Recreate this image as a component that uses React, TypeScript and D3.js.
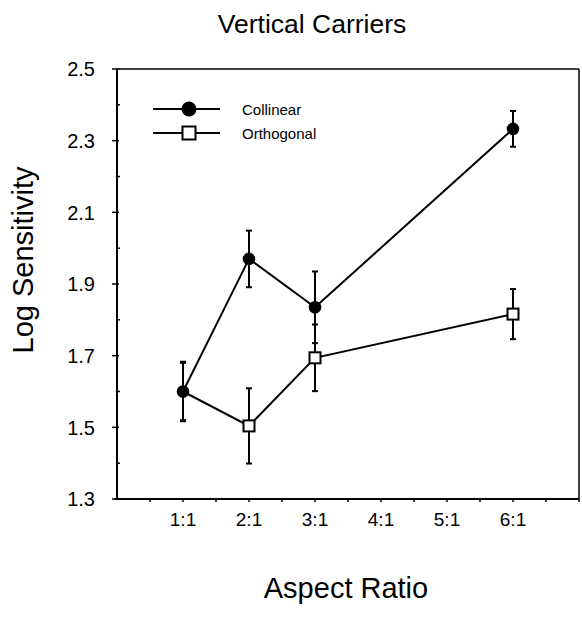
import React from "react";
import * as d3 from "d3";

const categories = ["1:1", "2:1", "3:1", "4:1", "5:1", "6:1"];
const categoryPos = [1, 2, 3, 4, 5, 6];
const yTicks = [1.3, 1.5, 1.7, 1.9, 2.1, 2.3, 2.5];

const collinearX = [1, 2, 3, 6];
const collinearY = [1.60, 1.97, 1.835, 2.333];
const collinearErr = [0.083, 0.079, 0.10, 0.05];

const orthogonalX = [1, 2, 3, 6];
const orthogonalY = [1.60, 1.504, 1.694, 1.816];
const orthogonalErr = [0.08, 0.105, 0.093, 0.07];

const FONT = "'Liberation Sans', Arial, Helvetica, sans-serif";

export default function App() {
  const W = 582, H = 617;
  const left = 117, right = 579, top = 69, bottom = 499;
  const x = d3.scaleLinear().domain([0, 7]).range([left, right]);
  const y = d3.scaleLinear().domain([1.3, 2.5]).range([bottom, top]);
  const line = d3.line<[number, number]>().x(d => x(d[0])).y(d => y(d[1]));

  const xMinor = d3.range(0.5, 7.01, 0.5);
  const yMinor = d3.range(1.4, 2.5, 0.2);

  const colPts: [number, number][] = collinearX.map((v, i) => [v, collinearY[i]]);
  const ortPts: [number, number][] = orthogonalX.map((v, i) => [v, orthogonalY[i]]);

  const errBars = (xs: number[], ys: number[], es: number[], key: string) =>
    xs.map((v, i) => {
      const cx = x(v);
      const y1 = y(ys[i] + es[i]);
      const y2 = y(ys[i] - es[i]);
      return (
        <g key={key + i} stroke="#000" strokeWidth={2}>
          <line x1={cx} x2={cx} y1={y1} y2={y2} />
          <line x1={cx - 3} x2={cx + 3} y1={y1} y2={y1} />
          <line x1={cx - 3} x2={cx + 3} y1={y2} y2={y2} />
        </g>
      );
    });

  // squares hidden where they coincide with a collinear point (circle drawn on top)
  const visibleOrt = ortPts.filter(p =>
    !colPts.some(c => c[0] === p[0] && Math.abs(y(c[1]) - y(p[1])) < 4));

  return (
    <svg width={W} height={H} style={{ position: "absolute", left: 0, top: 0, background: "#fff" }}
      fontFamily={FONT}>
      <rect x={0} y={0} width={W} height={H} fill="#fff" />
      {/* frame */}
      <line x1={left} x2={right} y1={top} y2={top} stroke="#000" strokeWidth={1.5} />
      <line x1={right} x2={right} y1={top} y2={bottom} stroke="#000" strokeWidth={1.5} />
      <line x1={left} x2={left} y1={top} y2={bottom + 1} stroke="#000" strokeWidth={2} />
      <line x1={left - 2} x2={right} y1={bottom} y2={bottom} stroke="#000" strokeWidth={2} />

      {/* y ticks */}
      {yTicks.map(t => (
        <g key={"yt" + t}>
          <line x1={left - 5} x2={left + 2} y1={y(t)} y2={y(t)} stroke="#000" strokeWidth={1.5} />
          <text x={95} y={y(t)} dy="0.36em" textAnchor="end" fontSize={20}>{t.toFixed(1)}</text>
        </g>
      ))}
      {yMinor.map(t => (
        <line key={"ym" + t} x1={left} x2={left + 3} y1={y(t)} y2={y(t)} stroke="#000" strokeWidth={1.5} />
      ))}

      {/* x ticks */}
      {xMinor.map(t => (
        <line key={"xm" + t} x1={x(t)} x2={x(t)} y1={bottom} y2={bottom + 3} stroke="#000" strokeWidth={1.5} />
      ))}
      {categories.map((c, i) => (
        <text key={"xl" + c} x={x(categoryPos[i])} y={526} textAnchor="middle" fontSize={19}>{c}</text>
      ))}

      {/* lines */}
      <path d={line(colPts) || ""} fill="none" stroke="#000" strokeWidth={2} />
      <path d={line(ortPts) || ""} fill="none" stroke="#000" strokeWidth={2} />

      {errBars(collinearX, collinearY, collinearErr, "ce")}
      {errBars(orthogonalX, orthogonalY, orthogonalErr, "oe")}

      {visibleOrt.map((p, i) => (
        <rect key={"os" + i} x={x(p[0]) - 5.5} y={y(p[1]) - 5.5} width={11} height={11}
          fill="#fff" stroke="#000" strokeWidth={2} />
      ))}
      {colPts.map((p, i) => (
        <circle key={"cc" + i} cx={x(p[0])} cy={y(p[1])} r={6.3} fill="#000" />
      ))}

      {/* legend */}
      <line x1={153} x2={220} y1={109} y2={109} stroke="#000" strokeWidth={2} />
      <circle cx={189} cy={109} r={7.5} fill="#000" />
      <text x={242} y={115} fontSize={15}>Collinear</text>
      <line x1={153} x2={220} y1={133} y2={133} stroke="#000" strokeWidth={2} />
      <rect x={182.5} y={126.5} width={13} height={13} fill="#fff" stroke="#000" strokeWidth={2} />
      <text x={242} y={139} fontSize={15}>Orthogonal</text>

      {/* titles */}
      <text x={312} y={33} textAnchor="middle" fontSize={26.5}>Vertical Carriers</text>
      <text x={346} y={598} textAnchor="middle" fontSize={29}>Aspect Ratio</text>
      <text transform="translate(33,260) rotate(-90)" textAnchor="middle" fontSize={29}>Log Sensitivity</text>
    </svg>
  );
}
